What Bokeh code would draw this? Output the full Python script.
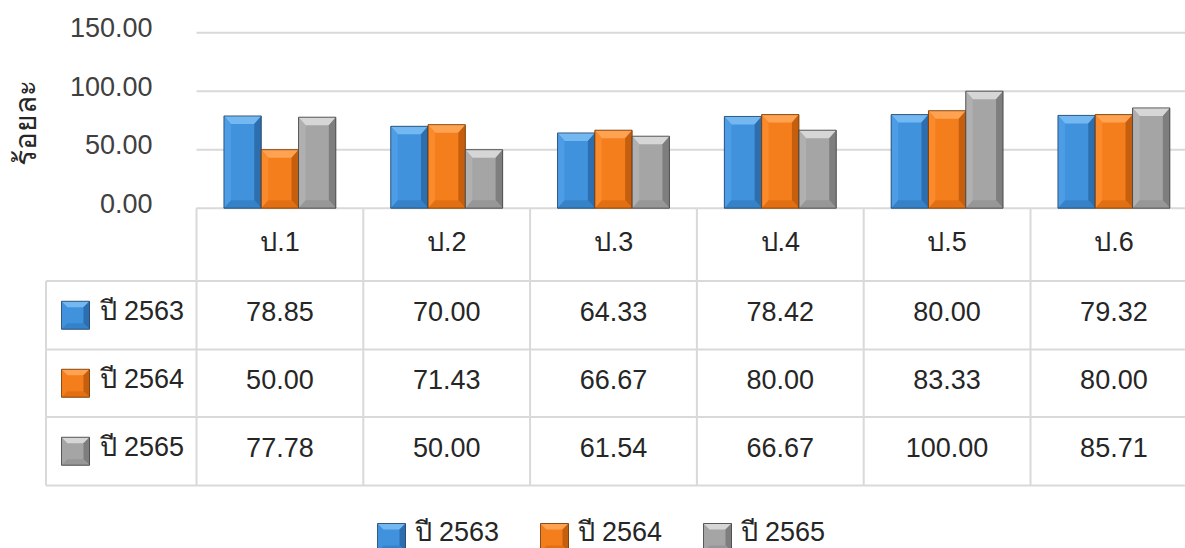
import math
from bokeh.plotting import figure
from bokeh.models import Range1d
from bokeh.core.properties import value
from bokeh.embed import file_html
from bokeh.resources import INLINE

# ---- data ----
categories = ["ป.1", "ป.2", "ป.3", "ป.4", "ป.5", "ป.6"]
series_names = ["ปี 2563", "ปี 2564", "ปี 2565"]
values_2563 = [78.85, 70.00, 64.33, 78.42, 80.00, 79.32]
values_2564 = [50.00, 71.43, 66.67, 80.00, 83.33, 80.00]
values_2565 = [77.78, 50.00, 61.54, 66.67, 100.00, 85.71]
y_ticks = [0, 50, 100, 150]
y_title = "ร้อยละ"

series = [values_2563, values_2564, values_2565]
main_colors = ["#4192DC", "#F47D1C", "#A5A5A5"]
top_colors = ["#74B8F2", "#FFA352", "#D6D6D6"]
left_colors = ["#4C9DE6", "#FA8A2C", "#B0B0B0"]
right_colors = ["#2D6FAE", "#C65F0D", "#7E7E7E"]
bottom_colors = ["#3682C9", "#E27012", "#979797"]
edge_colors = ["#1E3F60", "#6B3300", "#3A3A3A"]
grid_color = "#D9D9D9"
text_color = "#262626"
FONT = value("Liberation Sans")
FS = "27px"

# ---- layout constants (picture pixels) ----
W, H = 1185, 548
COL0, COLW = 196.0, 166.8
Y0, KY = 207.7, 1.17


def xd(px):
    return (px - COL0) / COLW


def yd(py):
    return (Y0 - py) / KY


p = figure(width=W, height=H, output_backend="svg", toolbar_location=None,
           x_range=Range1d(xd(0), xd(W)), y_range=Range1d(yd(H), yd(0)),
           x_axis_location=None, y_axis_location=None,
           min_border=0, outline_line_color=None)
p.background_fill_color = "white"
p.border_fill_color = "white"
p.grid.visible = False
p.extra_x_ranges = {"px": Range1d(0, W)}
p.extra_y_ranges = {"py": Range1d(H, 0)}

ncat = len(categories)

# gridlines
p.segment(x0=[0] * len(y_ticks), x1=[ncat] * len(y_ticks), y0=y_ticks, y1=y_ticks,
          line_color=grid_color, line_width=2)

# y tick labels (placed on the value scale)
p.text(x=[0] * len(y_ticks), y=y_ticks, text=["%.2f" % t for t in y_ticks],
       x_offset=-44, y_offset=-5, text_font=FONT, text_font_size=FS,
       text_color="#404040", text_align="right", text_baseline="middle")

# bevelled bars
BW = 37.3 / COLW
DX = 7.0 / COLW   # bevel width (data x)
DY = 8.0 / KY     # bevel height (data y)
for s, vals in enumerate(series):
    xs = [i + 0.5 + (s - 1) * BW for i in range(ncat)]
    xl = [x - BW / 2 for x in xs]
    xr = [x + BW / 2 for x in xs]
    p.vbar(x=xs, top=vals, bottom=0, width=BW, fill_color=main_colors[s], line_color=None)
    p.patches(xs=[[a, b, b - DX, a + DX] for a, b in zip(xl, xr)],
              ys=[[v, v, v - DY, v - DY] for v in vals],
              fill_color=top_colors[s], line_color=None)
    p.patches(xs=[[a, a + DX, a + DX, a] for a in xl],
              ys=[[v, v - DY, DY, 0] for v in vals],
              fill_color=left_colors[s], line_color=None)
    p.patches(xs=[[b, b - DX, b - DX, b] for b in xr],
              ys=[[v, v - DY, DY, 0] for v in vals],
              fill_color=right_colors[s], line_color=None)
    p.patches(xs=[[a, b, b - DX, a + DX] for a, b in zip(xl, xr)],
              ys=[[0, 0, DY, DY] for _ in vals],
              fill_color=bottom_colors[s], line_color=None)
    p.vbar(x=xs, top=vals, bottom=0, width=BW, fill_color=None,
           line_color=edge_colors[s], line_width=1, line_alpha=0.8)

# data table
ROW_EDGES = [207.7, 280.5, 349.0, 416.5, 485.0]
LEFT = 45.5
row_centers = [(ROW_EDGES[k] + ROW_EDGES[k + 1]) / 2 for k in range(len(ROW_EDGES) - 1)]

p.segment(x0=list(range(ncat + 1)), x1=list(range(ncat + 1)),
          y0=[ROW_EDGES[0]] * (ncat + 1), y1=[ROW_EDGES[-1]] * (ncat + 1),
          y_range_name="py", line_color=grid_color, line_width=2)
p.segment(x0=[xd(LEFT)], x1=[xd(LEFT)], y0=[ROW_EDGES[1]], y1=[ROW_EDGES[-1]],
          y_range_name="py", line_color=grid_color, line_width=2)
p.segment(x0=[xd(LEFT)] * 4, x1=[ncat] * 4, y0=ROW_EDGES[1:], y1=ROW_EDGES[1:],
          y_range_name="py", line_color=grid_color, line_width=2)

p.text(x=[i + 0.5 for i in range(ncat)], y=[row_centers[0] - 3] * ncat, text=categories,
       y_range_name="py", text_font=FONT, text_font_size=FS, text_color=text_color,
       text_align="center", text_baseline="middle")


def key_box(cx, cy, s, w=28, h=28):
    x0, x1, y0, y1 = cx - w / 2, cx + w / 2, cy - h / 2, cy + h / 2
    d = 6
    p.rect(x=[cx], y=[cy], width=w, height=h, x_range_name="px", y_range_name="py",
           fill_color=main_colors[s], line_color=None)
    p.patches(xs=[[x0, x1, x1 - d, x0 + d]], ys=[[y0, y0, y0 + d, y0 + d]],
              x_range_name="px", y_range_name="py", fill_color=top_colors[s], line_color=None)
    p.patches(xs=[[x1, x1 - d, x1 - d, x1]], ys=[[y0, y0 + d, y1 - d, y1]],
              x_range_name="px", y_range_name="py", fill_color=right_colors[s], line_color=None)
    p.patches(xs=[[x0, x1, x1 - d, x0 + d]], ys=[[y1, y1, y1 - d, y1 - d]],
              x_range_name="px", y_range_name="py", fill_color=bottom_colors[s], line_color=None)
    p.rect(x=[cx], y=[cy], width=w, height=h, x_range_name="px", y_range_name="py",
           fill_color=None, line_color=edge_colors[s], line_alpha=0.8)


for s, vals in enumerate(series):
    p.text(x=[i + 0.5 for i in range(ncat)], y=[row_centers[s + 1] - 4] * ncat,
           text=["%.2f" % v for v in vals], y_range_name="py", text_font=FONT,
           text_font_size=FS, text_color=text_color, text_align="center",
           text_baseline="middle")
    key_box(75, row_centers[s + 1], s)
    p.text(x=[99], y=[row_centers[s + 1] - 4], text=[series_names[s]], x_range_name="px",
           y_range_name="py", text_font=FONT, text_font_size=FS, text_color=text_color,
           text_align="left", text_baseline="middle")

# legend
LEG_Y = 531
leg_x = [391, 554, 717]
for s in range(len(series)):
    key_box(leg_x[s], LEG_Y + 6, s)
    p.text(x=[leg_x[s] + 23], y=[LEG_Y], text=[series_names[s]], x_range_name="px",
           y_range_name="py", text_font=FONT, text_font_size=FS, text_color=text_color,
           text_align="left", text_baseline="middle")

# y axis title
p.text(x=[25], y=[122], text=[y_title], angle=math.pi / 2, x_range_name="px",
       y_range_name="py", text_font=FONT, text_font_size="30px", text_color=text_color,
       text_align="center", text_baseline="middle")

open("out.html", "w").write(file_html(p, INLINE))
